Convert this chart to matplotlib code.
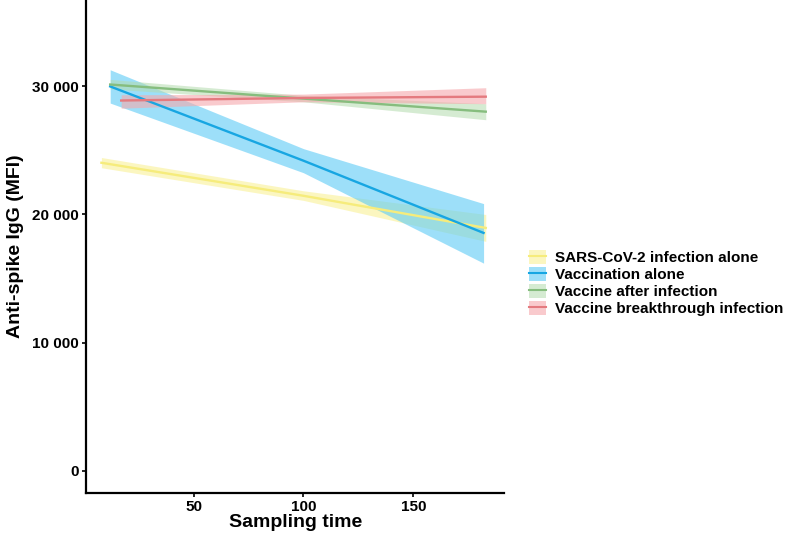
import matplotlib
matplotlib.use("Agg")
import matplotlib.pyplot as plt
from matplotlib.patches import Patch
from matplotlib.lines import Line2D
import numpy as np

plt.rcParams["font.family"] = ["Liberation Sans", "DejaVu Sans"]
plt.rcParams["font.weight"] = "bold"

GROUPS = [
    "SARS-CoV-2 infection alone",
    "Vaccination alone",
    "Vaccine after infection",
    "Vaccine breakthrough infection",
]

# sampling time at start / middle / end of each fitted line
X_POINTS = {
    "SARS-CoV-2 infection alone": [8, 100, 183],
    "Vaccination alone": [12, 100, 182],
    "Vaccine after infection": [12, 100, 183],
    "Vaccine breakthrough infection": [17, 100, 183],
}
FIT = {
    "SARS-CoV-2 infection alone": [24040, 21460, 18950],
    "Vaccination alone": [30000, 24200, 18560],
    "Vaccine after infection": [30150, 29050, 28030],
    "Vaccine breakthrough infection": [28900, 29100, 29200],
}
LOWER = {
    "SARS-CoV-2 infection alone": [23650, 21100, 17900],
    "Vaccination alone": [28700, 23260, 16200],
    "Vaccine after infection": [29800, 28800, 27400],
    "Vaccine breakthrough infection": [28300, 28800, 28650],
}
UPPER = {
    "SARS-CoV-2 infection alone": [24450, 21850, 20000],
    "Vaccination alone": [31300, 25140, 20850],
    "Vaccine after infection": [30550, 29300, 28650],
    "Vaccine breakthrough infection": [29350, 29400, 29900],
}
Y_TICKS = [0, 10000, 20000, 30000]
Y_TICK_LABELS = ["0", "10 000", "20 000", "30 000"]

LINE_COLORS = ["#F6EC7C", "#17A6E2", "#86BD7E", "#E47A7F"]
FILL_COLORS = ["#FAF3A6", "#5CCBF6", "#B4DBAE", "#F6A8AC"]
FILL_ALPHA = [0.7, 0.6, 0.55, 0.6]

fig = plt.figure(figsize=(7.85, 5.34), dpi=100)
ax = fig.add_axes([0.1096, 0.0768, 0.533, 0.9232])

handles = []
for i, g in enumerate(GROUPS):
    xs = np.array(X_POINTS[g])
    ax.fill_between(xs, LOWER[g], UPPER[g], color=FILL_COLORS[i],
                    alpha=FILL_ALPHA[i], lw=0, zorder=1 + i)
    ax.plot(xs, FIT[g], color=LINE_COLORS[i], lw=1.7, zorder=5 + i)
    handles.append((Patch(facecolor=FILL_COLORS[i], alpha=FILL_ALPHA[i], lw=0),
                    Line2D([], [], color=LINE_COLORS[i], lw=1.5)))

ax.set_xlim(1.0, 191.5)
ax.set_ylim(-1750, 36750)
ax.set_xticks([50, 100, 150])
ax.set_yticks(Y_TICKS)
ax.set_yticklabels(Y_TICK_LABELS)
ax.tick_params(labelsize=11, width=1.2, length=3, pad=2, colors="black")
for lab in ax.get_xticklabels() + ax.get_yticklabels():
    lab.set_fontweight("bold")
for side in ("top", "right"):
    ax.spines[side].set_visible(False)
for side in ("left", "bottom"):
    ax.spines[side].set_linewidth(1.6)

ax.set_xlabel("Sampling time", fontsize=14, fontweight="bold", labelpad=0)
ax.set_ylabel("Anti-spike IgG (MFI)", fontsize=14, fontweight="bold", labelpad=6)

fig.legend(handles, GROUPS, loc="center left", bbox_to_anchor=(0.674, 0.47),
           frameon=False, handlelength=1.1, handleheight=1.05,
           handletextpad=0.6, labelspacing=0.1, borderaxespad=0, borderpad=0,
           prop={"weight": "bold", "size": 11})

fig.savefig("out.png", dpi=100)
